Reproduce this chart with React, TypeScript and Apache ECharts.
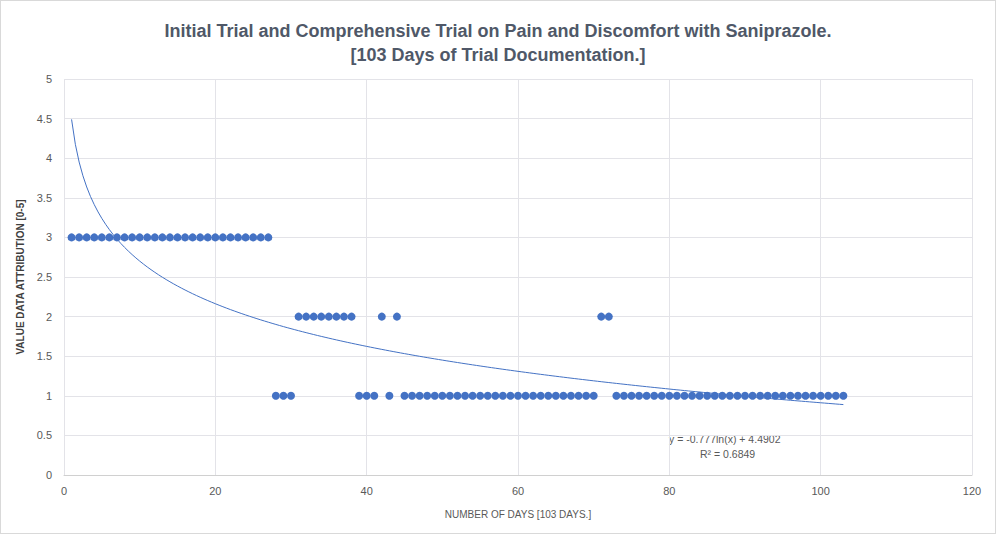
import React, { useEffect, useRef } from "react";
import * as echarts from "echarts";

const titleLines = [
  "Initial Trial and Comprehensive Trial on Pain and Discomfort with Saniprazole.",
  "[103 Days of Trial Documentation.]",
];
const xAxisName = "NUMBER OF DAYS [103 DAYS.]";
const yAxisName = "VALUE DATA ATTRIBUTION [0-5]";

// Day-by-day pain values (days 1..103)
const days: number[] = Array.from({ length: 103 }, (_, i) => i + 1);
const values: number[] = [
  3, 3, 3, 3, 3, 3, 3, 3, 3, 3, // 1-10
  3, 3, 3, 3, 3, 3, 3, 3, 3, 3, // 11-20
  3, 3, 3, 3, 3, 3, 3, 1, 1, 1, // 21-30
  2, 2, 2, 2, 2, 2, 2, 2, 1, 1, // 31-40
  1, 2, 1, 2, 1, 1, 1, 1, 1, 1, // 41-50
  1, 1, 1, 1, 1, 1, 1, 1, 1, 1, // 51-60
  1, 1, 1, 1, 1, 1, 1, 1, 1, 1, // 61-70
  2, 2, 1, 1, 1, 1, 1, 1, 1, 1, // 71-80
  1, 1, 1, 1, 1, 1, 1, 1, 1, 1, // 81-90
  1, 1, 1, 1, 1, 1, 1, 1, 1, 1, // 91-100
  1, 1, 1, // 101-103
];

// Logarithmic trendline as given in the chart's equation label
const trendSlope = -0.777;
const trendIntercept = 4.4902;
const trendLabel = ["y = -0.777ln(x) + 4.4902", "R² = 0.6849"];

export default function App() {
  const ref = useRef<HTMLDivElement>(null);
  useEffect(() => {
    if (!ref.current) return;
    const chart = echarts.init(ref.current, undefined, { renderer: "svg" });
    const scatterData = days.map((d, i) => [d, values[i]]);
    const trendData: number[][] = [];
    for (let x = 1; x <= 103; x += 0.5) {
      trendData.push([x, trendSlope * Math.log(x) + trendIntercept]);
    }
    const font = "'Liberation Sans', 'DejaVu Sans', sans-serif";
    chart.setOption({
      animation: false,
      backgroundColor: "#ffffff",
      textStyle: { fontFamily: font },
      title: {
        text: titleLines.join("\n"),
        left: "center",
        top: 13,
        textStyle: {
          fontFamily: font,
          fontSize: 18,
          fontWeight: "bold",
          color: "#4f5868",
          lineHeight: 24,
        },
      },
      grid: { left: 63, right: 23, top: 78, bottom: 58, containLabel: false },
      xAxis: {
        type: "value",
        min: 0,
        max: 120,
        interval: 20,
        name: xAxisName,
        nameLocation: "middle",
        nameGap: 34,
        nameTextStyle: { fontSize: 10, color: "#595959", fontFamily: font },
        axisLine: { show: true, lineStyle: { color: "#d0d0d0" } },
        axisTick: { show: false },
        axisLabel: { fontSize: 11, color: "#595959", margin: 10 },
        splitLine: { show: true, lineStyle: { color: "#e3e3e8", width: 1 } },
      },
      yAxis: {
        type: "value",
        min: 0,
        max: 5,
        interval: 0.5,
        name: yAxisName,
        nameLocation: "middle",
        nameGap: 34,
        nameTextStyle: { fontSize: 10, fontWeight: "bold", color: "#3f3f3f", fontFamily: font },
        axisLine: { show: false },
        axisTick: { show: false },
        axisLabel: { fontSize: 11, color: "#595959", margin: 12 },
        splitLine: { show: true, lineStyle: { color: "#e3e3e8", width: 1 } },
      },
      series: [
        {
          type: "scatter",
          data: scatterData,
          symbol: "circle",
          symbolSize: 8,
          itemStyle: { color: "#4472c4", opacity: 1 },
          z: 3,
        },
        {
          type: "line",
          data: trendData,
          showSymbol: false,
          smooth: false,
          lineStyle: { color: "#4472c4", width: 1 },
          z: 2,
        },
      ],
      graphic: [
        {
          type: "text",
          left: 668,
          top: 432,
          style: { text: trendLabel[0], fontSize: 10.5, fill: "#595959", fontFamily: font },
        },
        {
          type: "text",
          left: 699,
          top: 447,
          style: { text: trendLabel[1], fontSize: 10.5, fill: "#595959", fontFamily: font },
        },
      ],
    });
    return () => chart.dispose();
  }, []);
  return (
    <div
      ref={ref}
      style={{
        position: "fixed",
        left: 0,
        top: 0,
        width: 996,
        height: 534,
        boxSizing: "border-box",
        border: "1px solid #d9d9d9",
      }}
    />
  );
}
